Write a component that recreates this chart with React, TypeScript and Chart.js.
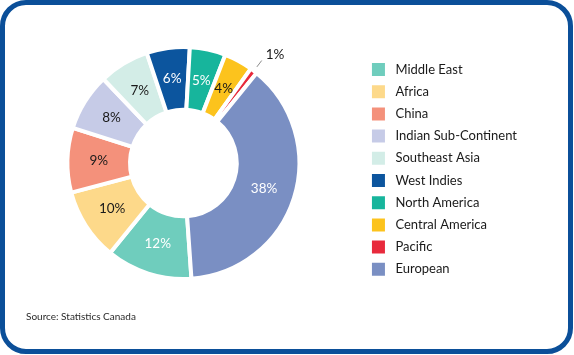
import React, { useEffect, useRef } from 'react';
import { Chart, registerables } from 'chart.js';

Chart.register(...registerables);

const categories = [
  'Middle East',
  'Africa',
  'China',
  'Indian Sub-Continent',
  'Southeast Asia',
  'West Indies',
  'North America',
  'Central America',
  'Pacific',
  'European',
];
const shares = [12, 10, 9, 8, 7, 6, 5, 4, 1, 38];
const sliceColors = [
  '#6fcdbd',
  '#fdd98a',
  '#f4917b',
  '#c6cbe7',
  '#d3ede7',
  '#0c559e',
  '#17b59c',
  '#fcc31d',
  '#e82a3c',
  '#7a8fc3',
];
const labelColors = [
  '#ffffff',
  '#1a1a1a',
  '#1a1a1a',
  '#1a1a1a',
  '#1a1a1a',
  '#ffffff',
  '#ffffff',
  '#1a1a1a',
  '#1a1a1a',
  '#ffffff',
];
const sourceNote = 'Source: Statistics Canada';

const FONT = 'Lato, "Noto Sans", sans-serif';

const sliceLabelPlugin = {
  id: 'sliceLabels',
  afterDatasetsDraw(chart: any) {
    const ctx = chart.ctx;
    const meta = chart.getDatasetMeta(0);
    ctx.save();
    ctx.font = `13.5px ${FONT}`;
    meta.data.forEach((arc: any, i: number) => {
      const v = shares[i];
      const { x, y, startAngle, endAngle, innerRadius, outerRadius } = arc.getProps(
        ['x', 'y', 'startAngle', 'endAngle', 'innerRadius', 'outerRadius'],
        true
      );
      const mid = (startAngle + endAngle) / 2;
      const text = `${v}%`;
      if (v >= 3) {
        const r = (innerRadius + outerRadius) / 2;
        ctx.fillStyle = labelColors[i];
        ctx.textAlign = 'center';
        ctx.textBaseline = 'middle';
        ctx.fillText(text, x + r * Math.cos(mid), y + r * Math.sin(mid));
      } else {
        const r1 = outerRadius + 5;
        const r2 = outerRadius + 13;
        const x1 = x + r1 * Math.cos(mid);
        const y1 = y + r1 * Math.sin(mid);
        const x2 = x + r2 * Math.cos(mid);
        const y2 = y + r2 * Math.sin(mid);
        ctx.strokeStyle = '#8a8a8a';
        ctx.lineWidth = 1;
        ctx.beginPath();
        ctx.moveTo(x1, y1);
        ctx.lineTo(x2, y2);
        ctx.stroke();
        ctx.fillStyle = '#1a1a1a';
        ctx.textAlign = 'left';
        ctx.textBaseline = 'middle';
        ctx.fillText(text, x2 + 4, y2 - 6);
      }
    });
    ctx.restore();
  },
};

const sourcePlugin = {
  id: 'sourceNote',
  afterDraw(chart: any) {
    const ctx = chart.ctx;
    ctx.save();
    ctx.font = `10px ${FONT}`;
    ctx.fillStyle = '#2a2a2a';
    ctx.textAlign = 'left';
    ctx.textBaseline = 'middle';
    ctx.fillText(sourceNote, 26, 317);
    ctx.restore();
  },
};

export default function App() {
  const canvasRef = useRef<HTMLCanvasElement | null>(null);

  useEffect(() => {
    if (!canvasRef.current) return;
    const baseGen = (Chart as any).overrides.doughnut.plugins.legend.labels.generateLabels;
    const chart = new Chart(canvasRef.current, {
      type: 'doughnut',
      data: {
        labels: categories,
        datasets: [
          {
            data: shares,
            backgroundColor: sliceColors,
            borderColor: '#ffffff',
            borderWidth: 4,
            hoverOffset: 0,
          },
        ],
      },
      options: {
        responsive: false,
        animation: false,
        rotation: 176,
        cutout: '46%',
        layout: { padding: { left: -1, right: 47, top: 45, bottom: 74 } },
        plugins: {
          tooltip: { enabled: false },
          legend: {
            position: 'right',
            align: 'end',
            labels: {
              boxWidth: 21,
              boxHeight: 21,
              padding: 1.2,
              color: '#1a1a1a',
              font: { family: FONT, size: 13 },
              generateLabels: (c: any) =>
                baseGen(c).map((l: any) => ({ ...l, strokeStyle: '#ffffff', lineWidth: 8 })),
            },
          },
        },
      },
      plugins: [sliceLabelPlugin, sourcePlugin],
    } as any);
    return () => chart.destroy();
  }, []);

  return (
    <div
      style={{
        position: 'fixed',
        left: 0,
        top: 0,
        width: 574,
        height: 355,
        background: '#ffffff',
        overflow: 'hidden',
      }}
    >
      <div
        style={{
          position: 'absolute',
          left: 0,
          top: 0,
          width: 573,
          height: 354,
          boxSizing: 'border-box',
          border: '5px solid #0b4f99',
          borderRadius: 26,
        }}
      />
      <canvas
        ref={canvasRef}
        width={574}
        height={355}
        style={{ position: 'absolute', left: 0, top: 0, width: 574, height: 355 }}
      />
    </div>
  );
}
